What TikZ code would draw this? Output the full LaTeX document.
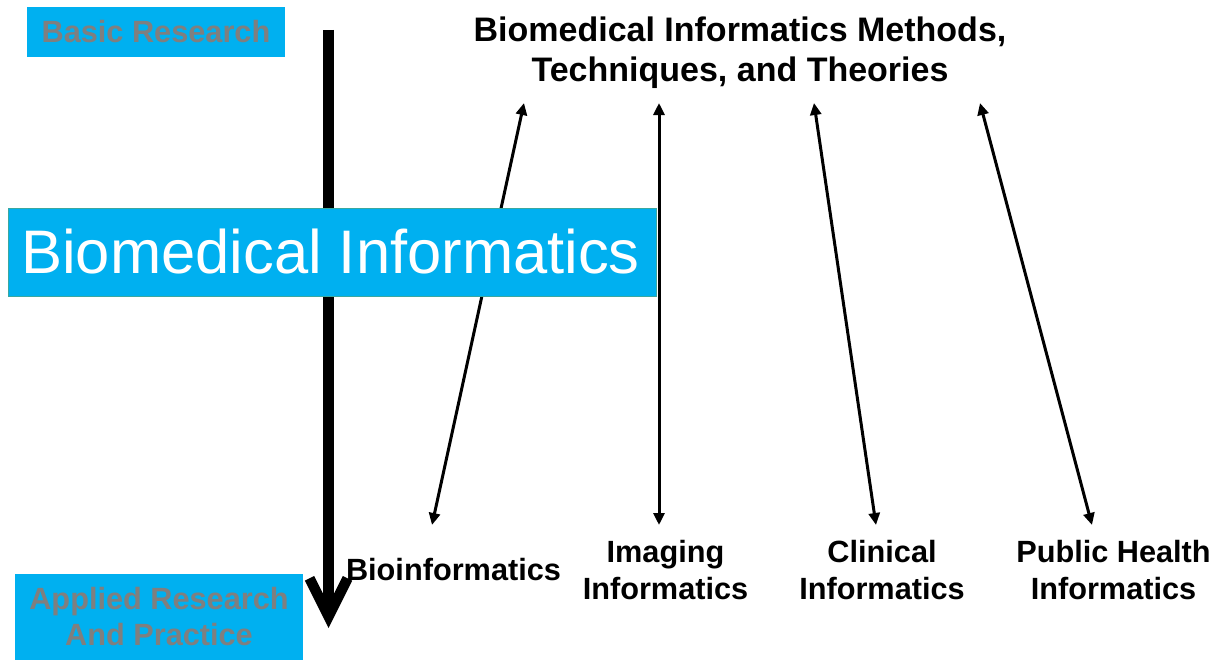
\documentclass[tikz,border=0pt]{standalone}
\usepackage{fontspec}
\setmainfont{Liberation Sans}
\usepackage{xcolor}
\usetikzlibrary{arrows.meta}
\definecolor{boxcyan}{HTML}{00B0F0}
\definecolor{labelgray}{HTML}{7F7F7F}
\definecolor{boxedge}{HTML}{3AA8A0}
\tikzset{
  fieldbox/.style={fill=boxcyan,inner sep=0pt,align=center},
  graylabel/.style={text=labelgray,font=\fontsize{30.7}{36}\selectfont\bfseries},
  fieldlabel/.style={font=\fontsize{30.7}{37}\selectfont\bfseries,align=center,inner sep=0pt},
  linkarrow/.style={line width=3pt,{Triangle[length=12pt,width=11pt]}-{Triangle[length=12pt,width=11pt]}}
}

\begin{document}
\begin{tikzpicture}[line cap=butt,line join=miter,x=1pt,y=-1pt]
                \useasboundingbox (0,0) rectangle (1224,661);
                % ends of the arrows
                \coordinate (bioTop) at (524,103);
                \coordinate (bioEnd) at (432,525);
                \coordinate (imgTop) at (659,103);
                \coordinate (imgEnd) at (659,525);
                \coordinate (clinTop) at (814,103);
                \coordinate (clinEnd) at (876,525);
                \coordinate (pubTop) at (980,103);
                \coordinate (pubEnd) at (1092,525);
                \coordinate (basicTop) at (328.5,30);
                \coordinate (appliedTip) at (328.5,628);
                \draw [linkarrow] (bioTop) -- (bioEnd);
                \draw [linkarrow] (imgTop) -- (imgEnd);
                \draw [linkarrow] (clinTop) -- (clinEnd);
                \draw [linkarrow] (pubTop) -- (pubEnd);
                \draw [line width=10.5pt,-{Straight Barb[length=38pt,width=38pt]}] (basicTop) -- (appliedTip);
                % boxes
                \node [fieldbox,graylabel,minimum width=258pt,minimum height=50pt] (basic) at (156,32) {\raisebox{-2pt}{Basic Research}};
                \node [fieldbox,graylabel,minimum width=288pt,minimum height=86pt] (applied) at (159,617) {Applied Research\\And Practice};
                \node [fieldbox,draw=boxedge,line width=1pt,minimum width=648pt,minimum height=88pt,text=white,font=\fontsize{61.5}{70}\selectfont] (bmi) at (332,252) {Biomedical Informatics\hspace{3pt}};
                % labels
                \node [fieldlabel,font=\fontsize{34}{40}\selectfont\bfseries] (methods) at (740,53) {Biomedical Informatics Methods,\\Techniques, and Theories};
                \node [fieldlabel] (bioLabel) at (453.5,570) {Bioinformatics};
                \node [fieldlabel] (imgLabel) at (665.5,570.5) {Imaging\\Informatics};
                \node [fieldlabel] (clinLabel) at (882,570.5) {Clinical\\Informatics};
                \node [fieldlabel] (pubLabel) at (1113.5,570.5) {Public Health\\Informatics};
            \end{tikzpicture}
\end{document}
